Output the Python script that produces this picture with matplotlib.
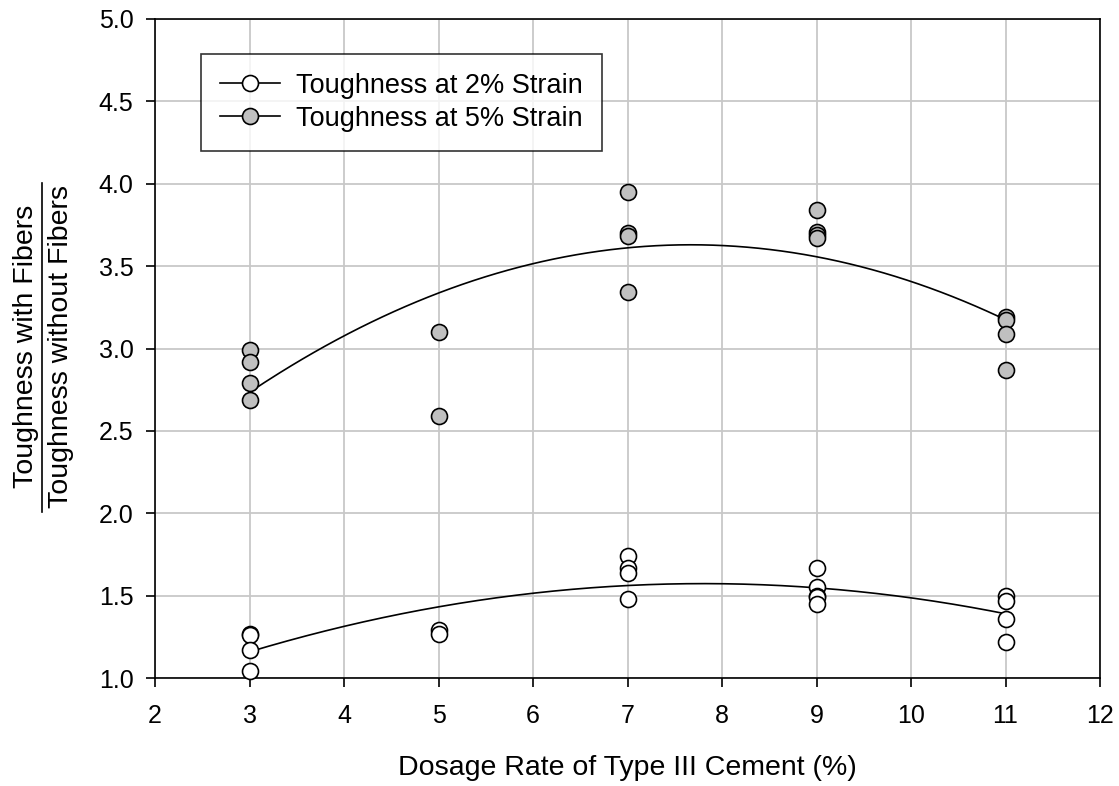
import numpy as np
import matplotlib
matplotlib.use("Agg")
import matplotlib.pyplot as plt
from matplotlib.lines import Line2D

plt.rcParams['font.family'] = ['Liberation Sans', 'DejaVu Sans']

# Data
x_2pct = [3, 3, 3, 3, 5, 5, 7, 7, 7, 7, 9, 9, 9, 9, 9, 11, 11, 11, 11]
y_2pct = [1.27, 1.26, 1.17, 1.04, 1.29, 1.27, 1.74, 1.67, 1.64, 1.48,
          1.67, 1.55, 1.50, 1.49, 1.45, 1.50, 1.47, 1.36, 1.22]
x_5pct = [3, 3, 3, 3, 5, 5, 7, 7, 7, 7, 9, 9, 9, 9, 11, 11, 11, 11]
y_5pct = [2.99, 2.92, 2.79, 2.69, 3.10, 2.59, 3.95, 3.70, 3.68, 3.34,
          3.84, 3.71, 3.69, 3.67, 3.19, 3.17, 3.09, 2.87]
label_2 = "Toughness at 2% Strain"
label_5 = "Toughness at 5% Strain"
x_ticks = [2, 3, 4, 5, 6, 7, 8, 9, 10, 11, 12]
y_ticks = [1.0, 1.5, 2.0, 2.5, 3.0, 3.5, 4.0, 4.5, 5.0]

W, H = 1119, 786
fig = plt.figure(figsize=(W / 100, H / 100), dpi=100)
ax = fig.add_axes([155 / W, 1 - 678 / H, (1100 - 155) / W, (678 - 19) / H])

ax.set_xlim(2, 12)
ax.set_ylim(1.0, 5.0)
ax.set_xticks(x_ticks)
ax.set_yticks(y_ticks)
ax.set_yticklabels([f"{v:.1f}" for v in y_ticks])
ax.grid(True, color='#c8c8c8', linewidth=1.3, zorder=0)
ax.set_axisbelow(True)
ax.tick_params(direction='out', length=6.5, width=1.2, labelsize=18)
ax.tick_params(axis='x', pad=12)
ax.tick_params(axis='y', pad=9)
for s in ax.spines.values():
    s.set_linewidth(1.2)

ms = 11.5
mew = 1.2

# Fits
xf = np.linspace(3, 11, 200)
c2 = np.polyfit(x_2pct, y_2pct, 2)
c5 = np.polyfit(x_5pct, y_5pct, 2)
ax.plot(xf, np.polyval(c2, xf), color='black', lw=1.2, zorder=3)
ax.plot(xf, np.polyval(c5, xf), color='black', lw=1.2, zorder=3)

ax.plot(x_2pct, y_2pct, 'o', ms=ms, mfc='white', mec='black', mew=mew, zorder=4, clip_on=False)
ax.plot(x_5pct, y_5pct, 'o', ms=ms, mfc='#c0c0c0', mec='black', mew=mew, zorder=4, clip_on=False)

handles = [Line2D([], [], color='black', lw=1.2, marker='o', ms=ms, mfc='white', mec='black', mew=mew),
           Line2D([], [], color='black', lw=1.2, marker='o', ms=ms, mfc='#c0c0c0', mec='black', mew=mew)]
leg = ax.legend(handles, [label_2, label_5], loc='upper left',
                bbox_to_anchor=((201 - 155) / (1100 - 155), (678 - 54) / (678 - 19)),
                borderaxespad=0, fontsize=19.5, frameon=True, fancybox=False,
                edgecolor='black', handlelength=2.2, handletextpad=0.6,
                borderpad=0.7, labelspacing=0.25)
leg.get_frame().set_linewidth(1.2)

ax.set_xlabel("Dosage Rate of Type III Cement (%)", fontsize=20.5, labelpad=20)

# Fraction y-label
yc = 1 - 346 / H
fig.text(33 / W, yc, "Toughness with Fibers", rotation=90, rotation_mode='anchor',
         ha='center', va='baseline', fontsize=20.5)
fig.text(68 / W, yc, "Toughness without Fibers", rotation=90, rotation_mode='anchor',
         ha='center', va='baseline', fontsize=20.5)
fig.add_artist(Line2D([42 / W, 42 / W], [1 - 183 / H, 1 - 512 / H], color='black', lw=1.2,
                      transform=fig.transFigure))

fig.savefig("out.png", dpi=100)
